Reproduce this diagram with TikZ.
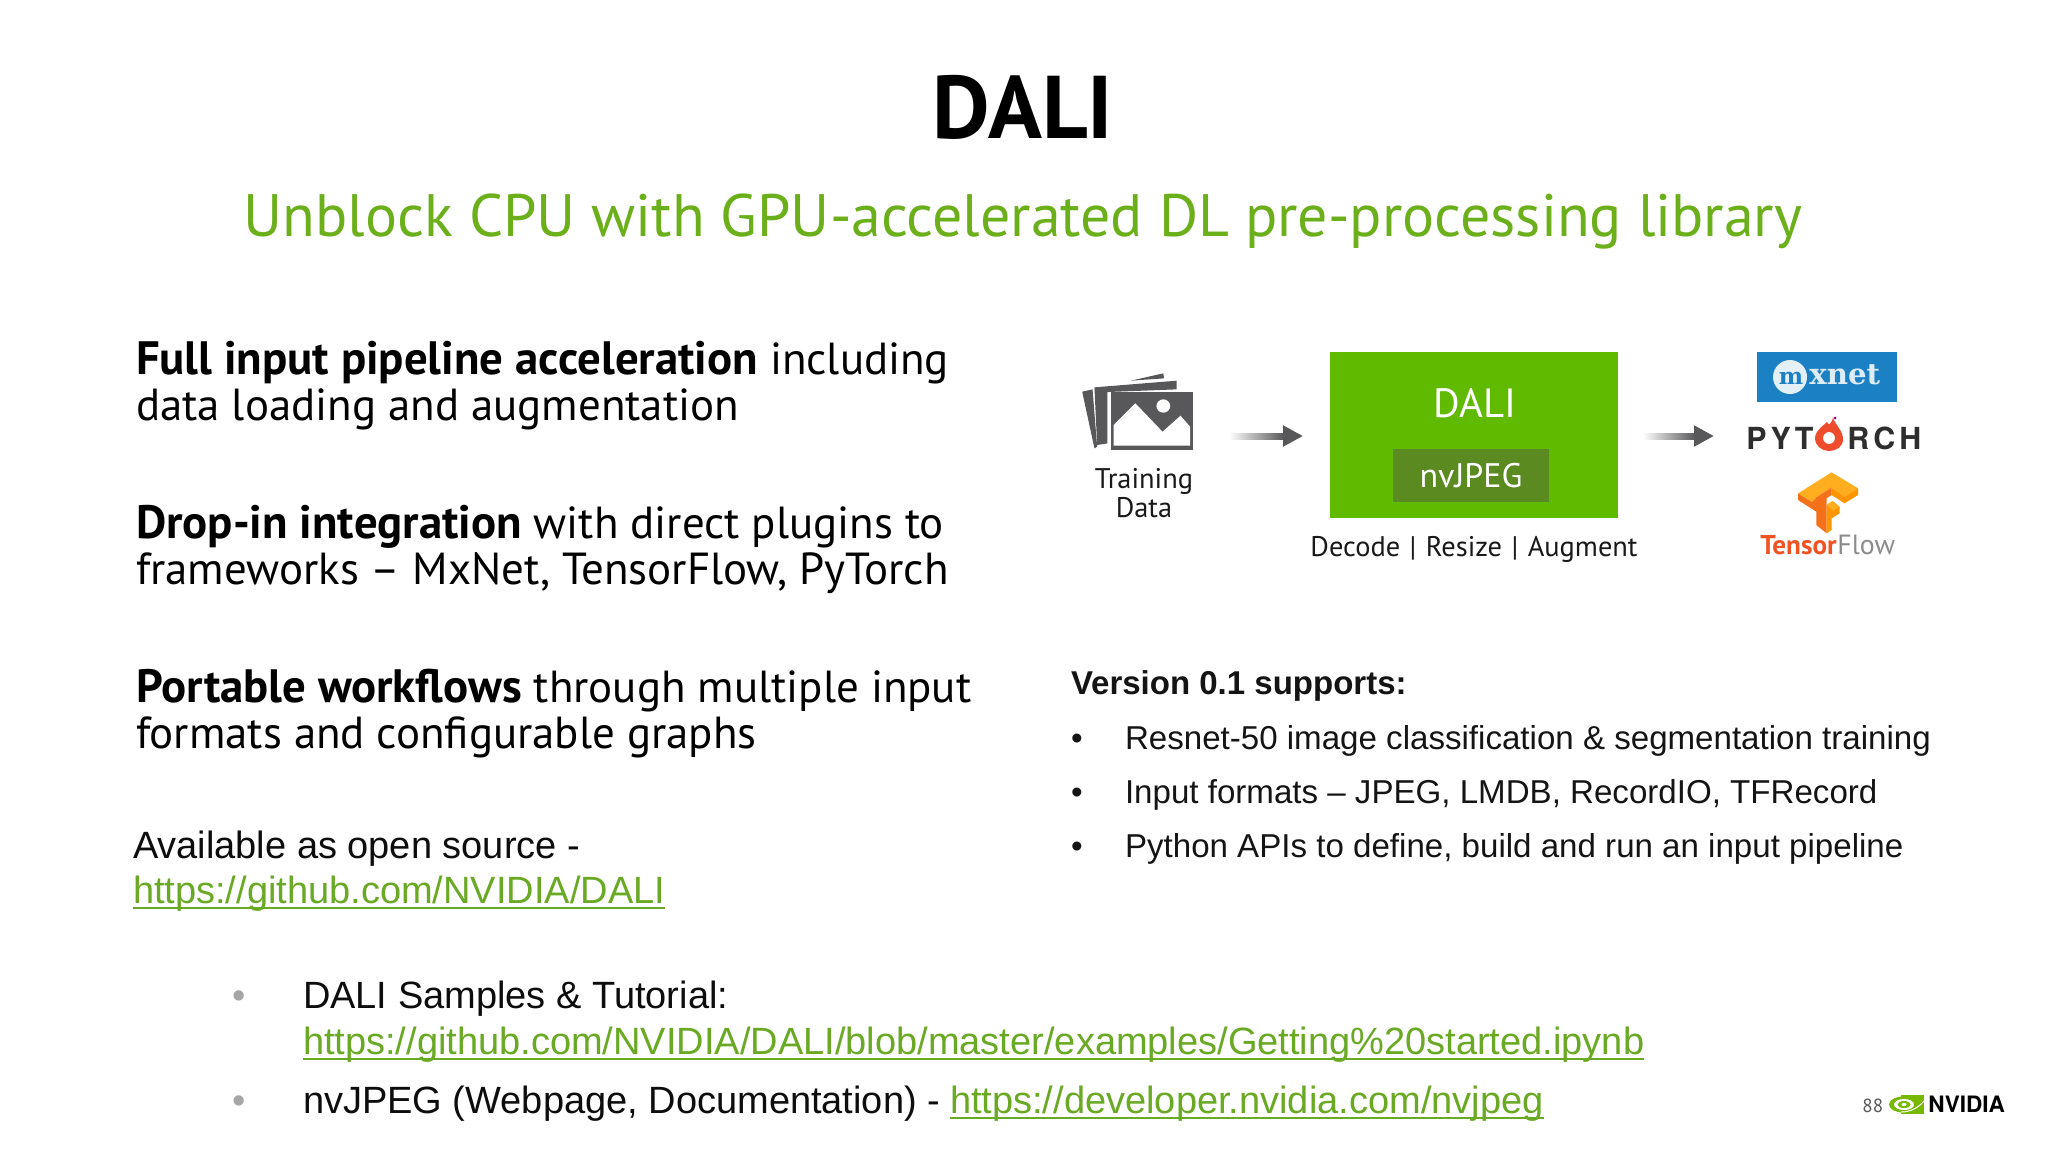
\documentclass[tikz,border=0pt]{standalone}
\usepackage{fontspec}
\setmainfont{PT Sans}
\newfontfamily\arial{Liberation Sans}
\newfontfamily\heros{TeX Gyre Heros}
\newfontfamily\slabf{DejaVu Serif}
\usetikzlibrary{calc,arrows.meta}
\definecolor{nvgreen}{HTML}{76B900}
\definecolor{dgreen}{HTML}{5FBA00}
\definecolor{subg}{HTML}{6BB01A}
\definecolor{linkg}{HTML}{69A923}
\definecolor{nvbox}{HTML}{5B8B20}
\definecolor{icon}{HTML}{58585A}
\definecolor{mxblue}{HTML}{1C80C4}
\definecolor{ptred}{HTML}{EE4C2C}
\definecolor{tfo}{HTML}{F4711A}
\definecolor{tfl}{HTML}{FFAE1F}
\definecolor{tfm}{HTML}{FF9500}
\tikzset{
  x=0.5pt,y=-0.5pt,
  txt/.style={inner sep=0pt,outer sep=0pt,anchor=base west,text=black},
  body/.style={txt,font=\fontsize{22.45}{24}\selectfont},
  ar/.style={txt,font=\arial\fontsize{19}{22}\selectfont,text=black!95},
  ars/.style={txt,font=\arial\fontsize{16.55}{20}\selectfont,text=black!92},
  lnk/.style={text=linkg},
  diag/.style={inner sep=0pt,outer sep=0pt,anchor=base,text=black!90,font=\fontsize{14.2}{16}\selectfont},
  under/.style={draw=linkg,line width=0.9pt},
  shaft/.style={left color=white,right color=icon,draw=none},
  head/.style={draw=icon,line width=3pt,-{Triangle[length=10pt,width=10pt]}},
}
\newcommand{\ulnode}[1]{\draw[under] ($(#1.base west)+(0,5)$) -- ($(#1.base east)+(0,5)$);}
\newcommand{\bb}[1]{{\bfseries\fontsize{23.4}{24}\selectfont #1}}
\begin{document}
\begin{tikzpicture}
\useasboundingbox (0,0) rectangle (2048,1152);
\fill[white] (0,0) rectangle (2048,1152);
% title
\node[inner sep=0pt,anchor=base,font=\bfseries\fontsize{44.5}{50}\selectfont] (title) at (1023,138) {DALI};
\node[inner sep=0pt,anchor=base,text=subg,font=\fontsize{29.93}{34}\selectfont] (sub) at (1023,236) {Unblock CPU with GPU-accelerated DL pre-processing library};
% left
\node[body] (l1) at (136,374) {\bb{Full input pipeline acceleration} including};
\node[body] (l2) at (136,420) {data loading and augmentation};
\node[body] (l3) at (136,538) {\bb{Drop-in integration} with direct plugins to};
\node[body] (l4) at (136,584) {frameworks – MxNet, TensorFlow, PyTorch};
\node[body] (l5) at (136,702) {\bb{Portable workflows} through multiple input};
\node[body] (l6) at (136,748) {formats and configurable graphs};
\node[ar] (av) at (133,858) {Available as open source -};
\node[ar,lnk] (avl) at (133,903) {https://github.com/NVIDIA/DALI};
\ulnode{avl}
% right list
\node[ars,font=\arial\bfseries\fontsize{16.5}{20}\selectfont] (v) at (1071,694) {Version 0.1 supports:};
\foreach \n/\y/\t in {a/749/{Resnet-50 image classification \& segmentation training},b/803/{Input formats – JPEG, LMDB, RecordIO, TFRecord},c/857/{Python APIs to define, build and run an input pipeline}}{
  \node[ars] (r\n) at (1125,\y) {\t};
  \node[ars] (rb\n) at (1071,\y) {•};
}
% bottom
\node[ar] (s) at (303,1008) {DALI Samples \& Tutorial:};
\node[ar,lnk] (sl) at (303,1054) {https://github.com/NVIDIA/DALI/blob/master/examples/Getting\%20started.ipynb};
\ulnode{sl}
\node[ar] (j) at (303,1113) {nvJPEG (Webpage, Documentation) -};
\node[ar,lnk] (jl) at (950,1113) {https://developer.nvidia.com/nvjpeg};
\ulnode{jl}
\node[ar,text=black!35] (bs) at (232,1008) {•};
\node[ar,text=black!35] (bj) at (232,1113) {•};
% diagram
\begin{scope}[shift={(1060,330)},x=0.1913pt,y=-0.1667pt]
  \fill[icon] (58,185)--(85,178)--(97,350)--(90,355)--cycle;
  \fill[icon] (90,172)--(305,152)--(305,178)--(124,186)--(124,340)--(97,345)--cycle;
  \fill[icon] (185,152)--(270,130)--(272,145)--cycle;
  \fill[icon] (132,186) rectangle (348,360);
  \fill[white] (140,285)--(197,220)--(268,305)--(315,257)--(340,290)--(340,347)--(140,347)--cycle;
  \fill[white] (270,228) ellipse [x radius=18,y radius=20];
\end{scope}
\node[minimum width=55pt,minimum height=38pt,inner sep=0pt] (data) at (1137,411) {};
\node[diag] (td1) at (1144,488) {Training};
\node[diag] (td2) at (1144,517) {Data};
\node[fill=dgreen,minimum width=144pt,minimum height=83pt,inner sep=0pt,outer sep=0pt] (dali) at (1474,435) {};
\node[fill=nvbox,minimum width=78pt,minimum height=26.5pt,inner sep=0pt] (nv) at (1471,475.5) {};
\node[diag,text=white,font=\fontsize{20.4}{24}\selectfont] (dt) at (1475,417) {DALI};
\node[diag,text=white,font=\fontsize{17}{18}\selectfont] (nt) at (1471,487) {nvJPEG};
\node[diag] (dec) at (1474,556) {Decode\,\,|\,\,Resize\,\,|\,\,Augment};
% arrows
\coordinate (a1e) at ($(dali.west)+(-27,1)$);
\shade[shaft] ($(a1e)+(-74,-3)$) rectangle ($(a1e)+(-19,3)$);
\coordinate (a1m) at ($(a1e)+(-20,0)$);
\draw[head] (a1m) -- (a1e);
% mxnet
\node[fill=mxblue,minimum width=70pt,minimum height=25pt,inner sep=0pt] (mx) at (1827,377) {};
\fill[white!88!mxblue] (1790,377) circle (17);
\node[inner sep=0pt,anchor=base west,font=\slabf\bfseries\fontsize{14.6}{20}\selectfont,text=white!85!mxblue] (mt) at (1809,384) {xnet};
\node[inner sep=0pt,anchor=base,font=\slabf\bfseries\fontsize{11.5}{20}\selectfont,text=mxblue] (mm) at (1791,384) {m};
% pytorch
\node[inner sep=0pt,anchor=base west,font=\heros\bfseries\fontsize{15.2}{18}\selectfont,text=black!82] (pt1) at (1746,449) {P\kern2pt Y\kern2pt T};
\node[inner sep=0pt,anchor=base west,font=\heros\bfseries\fontsize{15.2}{18}\selectfont,text=black!82] (pt2) at (1847,449) {R\kern2pt C\kern2pt H};
\fill[ptred,even odd rule] (1833,417) .. controls (1834,424) and (1843,430) .. (1843,439) .. controls (1843,447) and (1836,451) .. (1829,451) .. controls (1822,451) and (1815,446) .. (1815,438) .. controls (1815,431) and (1824,425) .. (1827,422) .. controls (1828,426) and (1832,424) .. (1833,417) -- cycle
  (1829,438) circle (6);
\fill[purple!70!blue] (1835,418) circle (1.5);
\coordinate (a2e) at ($(dali.east)+(96,1)$);
\shade[shaft] ($(a2e)+(-71,-3)$) rectangle ($(a2e)+(-19,3)$);
\coordinate (a2m) at ($(a2e)+(-20,0)$);
\draw[head] (a2m) -- (a2e);
% TF
\begin{scope}[shift={(1791,465)},x=0.162pt,y=-0.1667pt]
  \fill[tfl] (22,85)--(125,22)--(207,70)--(165,95)--(125,68)--(78,97)--(65,112)--cycle;
  \fill[tfo] (22,85)--(22,105)--(78,140)--(78,180)--(110,205)--(110,100)--(125,90)--(125,68)--(78,97)--(65,112)--cycle;
  \fill[tfm] (125,68)--(125,90)--(165,115)--(207,90)--(207,70)--(165,95)--cycle;
  \fill[tfm] (110,205)--(125,195)--(125,160)--(150,145)--(150,125)--(128,108)--(110,120)--cycle;
  \fill[tfl] (110,120)--(128,108)--(150,125)--(130,137)--cycle;
\end{scope}
\node[inner sep=0pt,anchor=base west,font=\bfseries\fontsize{13.6}{16}\selectfont,text=ptred!85!orange] (tf1) at (1760,554) {Tensor};
\node[inner sep=0pt,anchor=base west,font=\fontsize{13.9}{16}\selectfont,text=black!45] (tf2) at (tf1.base east) {Flow};
% footer
\node[inner sep=0pt,anchor=base west,font=\fontsize{9.5}{11}\selectfont,text=black!65] (pg) at (1862,1112) {88};
\begin{scope}[shift={(1889,1095)}]
  \fill[nvgreen] (12,0) rectangle (35,19);
  \fill[nvgreen] (14,9.5) ellipse [x radius=14,y radius=8];
  \fill[white] (15,9.5) ellipse [x radius=10,y radius=5.5];
  \fill[nvgreen] (15,9.5) ellipse [x radius=6.5,y radius=3.5];
  \fill[white] (15,9.5) ellipse [x radius=2.5,y radius=1.6];
  \draw[white,line width=0.5pt] (12,17) .. controls (22,17) and (30,12) .. (35,6);
\end{scope}
\node[inner sep=0pt,anchor=base west,font=\heros\bfseries\fontsize{11.3}{12}\selectfont] (nvd) at (1928,1112) {NVIDIA};
\end{tikzpicture}
\end{document}
